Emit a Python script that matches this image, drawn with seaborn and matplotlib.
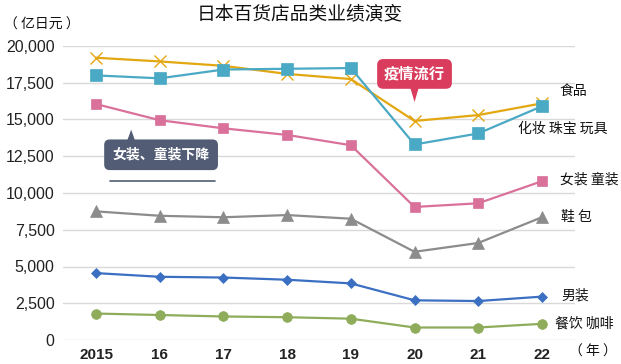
import matplotlib
matplotlib.use("Agg")
import matplotlib.pyplot as plt
import seaborn as sns
import pandas as pd

# 年份与各品类销售额（亿日元）
years = ["2015", "16", "17", "18", "19", "20", "21", "22"]
food = [19200, 18950, 18650, 18100, 17750, 14900, 15300, 16100]
cosmetics = [18000, 17800, 18400, 18450, 18500, 13300, 14050, 15900]
women_kids = [16050, 14950, 14400, 13950, 13250, 9050, 9300, 10800]
shoes_bags = [8750, 8450, 8350, 8500, 8250, 6000, 6600, 8350]
menswear = [4550, 4300, 4250, 4100, 3850, 2700, 2650, 2950]
dining = [1800, 1700, 1600, 1550, 1450, 850, 850, 1100]

series = [
    ("食品", food, "#e3a712", "x", 8),
    ("化妆 珠宝 玩具", cosmetics, "#4aa9c4", "s", 8),
    ("女装 童装", women_kids, "#d9719a", "s", 7),
    ("鞋 包", shoes_bags, "#8c8c8c", "^", 8),
    ("男装", menswear, "#3b6fc2", "D", 5.5),
    ("餐饮 咖啡", dining, "#8eac5a", "o", 7),
]

sns.set_style("white")
plt.rcParams["font.family"] = ["Liberation Sans", "Noto Sans CJK SC", "DejaVu Sans"]
cjk = ["Noto Sans CJK SC", "DejaVu Sans"]

fig = plt.figure(figsize=(6.21, 3.64), dpi=100)
ax = fig.add_axes([63 / 621, 24 / 364, 512 / 621, 294 / 364])

xs = list(range(len(years)))
for name, vals, color, marker, ms in series:
    df = pd.DataFrame({"x": xs, "y": vals})
    sns.lineplot(data=df, x="x", y="y", ax=ax, color=color, marker=marker,
                 markersize=ms, linewidth=1.6, markeredgecolor=color,
                 markeredgewidth=1.0 if marker == "x" else 0.5)

ax.set_xlim(-0.52, 7.52)
ax.set_ylim(0, 20000)
ax.set_yticks(range(0, 20001, 2500))
ax.set_yticklabels([f"{v:,}" for v in range(0, 20001, 2500)], fontsize=11.5)
ax.set_xticks(xs)
ax.set_xticklabels(years, fontsize=11, fontweight="bold")
ax.set_xlabel("")
ax.set_ylabel("")
ax.grid(axis="y", color="#d9d9d9", linewidth=1)
ax.tick_params(axis="both", length=0, pad=6, colors="#222222")
for s in ax.spines.values():
    s.set_visible(False)

# 右侧系列标签
right_labels = [
    ("食品", 7.28, 16950),
    ("化妆 珠宝 玩具", 6.62, 14380),
    ("女装 童装", 7.28, 10900),
    ("鞋 包", 7.3, 8400),
    ("男装", 7.3, 3000),
    ("餐饮 咖啡", 7.2, 1100),
]
for text, x, y in right_labels:
    ax.text(x, y, text, fontsize=10, family=cjk, va="center", ha="left",
            color="#111111", clip_on=False)

# 标注框
ax.annotate("", xy=(5.0, 16000), xytext=(5.0, 17500),
            arrowprops=dict(arrowstyle="wedge,tail_width=0.7", color="#d93c5c", lw=0))
ax.text(5.0, 18100, "疫情流行", fontsize=11, family=cjk, fontweight="bold",
        color="white", ha="center", va="center",
        bbox=dict(boxstyle="round,pad=0.45,rounding_size=0.4", fc="#d93c5c", ec="none"))

ax.annotate("", xy=(0.55, 14500), xytext=(0.55, 13200),
            arrowprops=dict(arrowstyle="wedge,tail_width=0.7", color="#525c74", lw=0))
ax.text(1.02, 12600, "女装、童装下降", fontsize=10, family=cjk, fontweight="bold",
        color="white", ha="center", va="center",
        bbox=dict(boxstyle="round,pad=0.6,rounding_size=0.4", fc="#525c74", ec="none"))
ax.plot([0.22, 1.87], [10800, 10800], color="#525c74", lw=1.2)

fig.text(300 / 621, 1 - 15 / 364, "日本百货店品类业绩演变", fontsize=13.5, family=cjk,
         ha="center", va="center", color="#111111")
fig.text(4 / 621, 1 - 25 / 364, "（ 亿日元 ）", fontsize=10, family=cjk,
         ha="left", va="center", color="#111111")
fig.text(617 / 621, 1 - 352 / 364, "（ 年 ）", fontsize=10, family=cjk,
         ha="right", va="center", color="#111111")

fig.savefig("out.png", dpi=100)
